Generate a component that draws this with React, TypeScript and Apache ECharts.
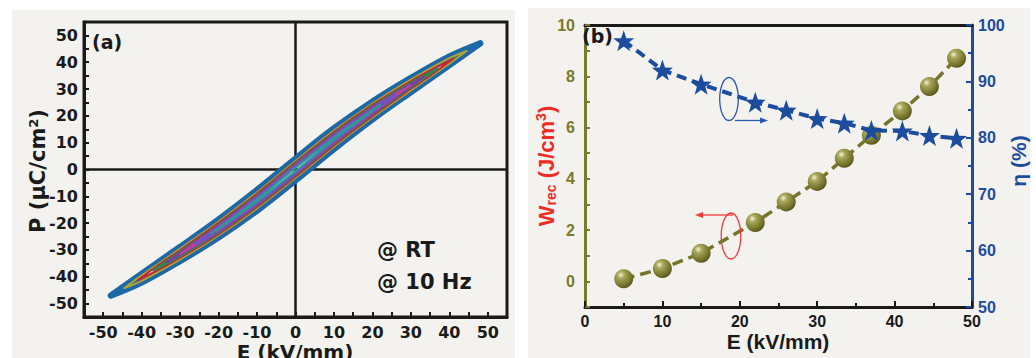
import React, { useEffect, useRef } from "react";
import * as echarts from "echarts";

// ---------- Panel (a): P-E loops (E in kV/mm, P in uC/cm2) ----------
const loop48: number[][] = [
  [48, 47], [40, 42.1], [30, 34.1], [20, 25.3], [10, 15.3], [0, 4.0], [-10, -7.7], [-20, -18.7], [-30, -28.9], [-40, -38.9], [-48, -47],
  [-40, -42.1], [-30, -34.1], [-20, -25.3], [-10, -15.3], [0, -4.0], [10, 7.7], [20, 18.7], [30, 28.9], [40, 38.9], [48, 47],
];
const loop44: number[][] = [
  [44.5, 44.2], [40, 41.5], [30, 33.5], [20, 24.6], [10, 14.5], [0, 3.2], [-10, -8.5], [-20, -19.4], [-30, -29.5], [-40, -39.5], [-44.5, -44.2],
  [-40, -41.5], [-30, -33.5], [-20, -24.6], [-10, -14.5], [0, -3.2], [10, 8.5], [20, 19.4], [30, 29.5], [40, 39.5], [44.5, 44.2],
];
const loop41: number[][] = [
  [41, 41.3], [36, 37.6], [30, 32.9], [20, 24.1], [10, 14.0], [0, 2.7], [-10, -9.0], [-20, -19.9], [-30, -30.1], [-36, -36.0], [-41, -41.3],
  [-36, -37.6], [-30, -32.9], [-20, -24.1], [-10, -14.0], [0, -2.7], [10, 9.0], [20, 19.9], [30, 30.1], [36, 36.0], [41, 41.3],
];
const loop37: number[][] = [
  [37, 37.6], [30, 32.4], [20, 23.6], [10, 13.5], [0, 2.2], [-10, -9.5], [-20, -20.4], [-30, -30.6], [-37, -37.6],
  [-30, -32.4], [-20, -23.6], [-10, -13.5], [0, -2.2], [10, 9.5], [20, 20.4], [30, 30.6], [37, 37.6],
];
const loop33: number[][] = [
  [33.5, 34.6], [28, 30.2], [20, 23.2], [10, 13.1], [0, 1.8], [-10, -9.9], [-20, -20.8], [-28, -29.0], [-33.5, -34.6],
  [-28, -30.2], [-20, -23.2], [-10, -13.1], [0, -1.8], [10, 9.9], [20, 20.8], [28, 29.0], [33.5, 34.6],
];
const loop30: number[][] = [
  [30, 31.5], [25, 27.3], [20, 22.8], [10, 12.7], [0, 1.4], [-10, -10.3], [-20, -21.2], [-25, -26.3], [-30, -31.5],
  [-25, -27.3], [-20, -22.8], [-10, -12.7], [0, -1.4], [10, 10.3], [20, 21.2], [25, 26.3], [30, 31.5],
];
const loop26: number[][] = [
  [26, 27.8], [20, 22.4], [10, 12.3], [0, 1.0], [-10, -10.7], [-20, -21.6], [-26, -27.8],
  [-20, -22.4], [-10, -12.3], [0, -1.0], [10, 10.7], [20, 21.6], [26, 27.8],
];
const loop22: number[][] = [
  [22, 24], [17, 19.1], [10, 11.9], [0, 0.6], [-10, -11.1], [-17, -18.7], [-22, -24],
  [-17, -19.1], [-10, -11.9], [0, -0.6], [10, 11.1], [17, 18.7], [22, 24],
];
const tickLabelsA = [-50, -40, -30, -20, -10, 0, 10, 20, 30, 40, 50];

// ---------- Panel (b): energy storage ----------
const fieldE = [5, 10, 15, 22, 26, 30, 33.5, 37, 41, 44.5, 48];
const wrec = [0.1, 0.5, 1.1, 2.3, 3.1, 3.9, 4.8, 5.7, 6.65, 7.6, 8.7];
const eta = [97.2, 92.0, 89.5, 86.3, 84.9, 83.4, 82.6, 81.3, 81.2, 80.4, 79.9];
const wTickLabels = [0, 2, 4, 6, 8, 10];

const DARK = "#1a1a1a";
const OLIVE = "#7b7a2c";
const BLUE = "#1c4c9e";
const RED = "#ee2b24";
const BG = "#f3f2ee";
const FA = "DejaVu Sans";
const FB = "Liberation Sans";

const STAR =
  "path://M0,-10 L2.35,-3.24 L9.51,-3.09 L3.8,1.24 L5.88,8.09 L0,4 L-5.88,8.09 L-3.8,1.24 L-9.51,-3.09 L-2.35,-3.24 Z";

export default function App() {
  const ref = useRef<HTMLDivElement>(null);
  useEffect(() => {
    if (!ref.current) return;
    const chart = echarts.init(ref.current, undefined, { renderer: "svg" });

    const loops = [
      { pts: loop48, color: "#1d68a6", width: 6.5 },
      { pts: loop44, color: "#b0a232", width: 2 },
      { pts: loop41, color: "#c2283c", width: 2 },
      { pts: loop37, color: "#2a8a4a", width: 2 },
      { pts: loop33, color: "#7f3aa8", width: 2 },
      { pts: loop30, color: "#c0409a", width: 2 },
      { pts: loop26, color: "#5a5ad0", width: 2 },
      { pts: loop22, color: "#2a9a9a", width: 2 },
    ];

    const pairs = (ys: number[]) => fieldE.map((e, i) => [e, ys[i]]);

    const labelA = { fontFamily: FA, fontWeight: "bold" as const, fontSize: 16, color: DARK };
    const labelB = { fontFamily: FB, fontWeight: "bold" as const, fontSize: 16 };

    const option: any = {
      animation: false,
      backgroundColor: "#ffffff",
      grid: [
        { left: 84, top: 22, width: 423, height: 295, show: true, borderColor: DARK, borderWidth: 3, backgroundColor: "transparent" },
        { left: 585, top: 25, width: 387, height: 282, show: false },
      ],
      xAxis: [
        {
          gridIndex: 0, type: "value", min: -55, max: 55, interval: 5,
          axisLine: { show: true, onZero: false, lineStyle: { color: DARK, width: 3 } },
          axisTick: { show: true, inside: true, length: 5, lineStyle: { color: DARK, width: 2 } },
          axisLabel: { ...labelA, margin: 7, formatter: (v: number) => (tickLabelsA.includes(v) ? String(v) : "") },
          splitLine: { show: false },
        },
        {
          gridIndex: 1, type: "value", min: 0, max: 50, interval: 10,
          axisLine: { show: true, onZero: false, lineStyle: { color: DARK, width: 3 } },
          axisTick: { show: true, inside: true, length: 6, lineStyle: { color: DARK, width: 2 } },
          minorTick: { show: true, splitNumber: 2, length: 4, lineStyle: { color: DARK, width: 2 } },
          axisLabel: { ...labelB, color: DARK, margin: 6 },
          splitLine: { show: false },
          minorSplitLine: { show: false },
        },
        {
          gridIndex: 1, type: "value", min: 0, max: 50, position: "top",
          axisLine: { show: true, onZero: false, lineStyle: { color: DARK, width: 3 } },
          axisTick: { show: false }, axisLabel: { show: false }, splitLine: { show: false },
        },
      ],
      yAxis: [
        {
          gridIndex: 0, type: "value", min: -55, max: 55, interval: 5,
          axisLine: { show: true, onZero: false, lineStyle: { color: DARK, width: 3 } },
          axisTick: { show: true, inside: true, length: 5, lineStyle: { color: DARK, width: 2 } },
          axisLabel: { ...labelA, margin: 6, formatter: (v: number) => (tickLabelsA.includes(v) ? String(v) : "") },
          splitLine: { show: false },
        },
        {
          gridIndex: 1, type: "value", min: -1, max: 10, interval: 1, position: "left",
          axisLine: { show: true, onZero: false, lineStyle: { color: OLIVE, width: 3 } },
          axisTick: { show: true, inside: true, length: 5, lineStyle: { color: OLIVE, width: 2 } },
          axisLabel: { ...labelB, color: OLIVE, margin: 10, formatter: (v: number) => (wTickLabels.includes(v) ? String(v) : "") },
          splitLine: { show: false },
        },
        {
          gridIndex: 1, type: "value", min: 50, max: 100, interval: 10, position: "right",
          axisLine: { show: true, onZero: false, lineStyle: { color: BLUE, width: 3 } },
          axisTick: { show: true, inside: true, length: 6, lineStyle: { color: BLUE, width: 2 } },
          minorTick: { show: true, splitNumber: 2, length: 4, lineStyle: { color: BLUE, width: 2 } },
          axisLabel: { ...labelB, color: BLUE, margin: 6 },
          splitLine: { show: false },
          minorSplitLine: { show: false },
        },
      ],
      series: [
        {
          type: "line", xAxisIndex: 0, yAxisIndex: 0, data: [], silent: true,
          markLine: {
            silent: true, symbol: ["none", "none"], z: 1, label: { show: false },
            lineStyle: { color: DARK, width: 2.5, type: "solid" },
            data: [{ xAxis: 0 }, { yAxis: 0 }],
          },
        },
        ...loops.map((l) => ({
          type: "line", xAxisIndex: 0, yAxisIndex: 0, data: l.pts, smooth: 0.35,
          symbol: "none", silent: true, z: 3,
          lineStyle: { color: l.color, width: l.width, cap: "round", join: "round" },
        })),
        {
          type: "line", xAxisIndex: 1, yAxisIndex: 1, data: pairs(wrec), z: 4,
          symbol: "circle", symbolSize: 19,
          lineStyle: { color: "#75742a", width: 3.5, type: [11, 6] },
          itemStyle: {
            color: new echarts.graphic.RadialGradient(0.35, 0.3, 0.75, [
              { offset: 0, color: "#f2f2d8" },
              { offset: 0.25, color: "#a9a75a" },
              { offset: 0.7, color: "#7a7830" },
              { offset: 1, color: "#55541c" },
            ]),
          },
        },
        {
          type: "line", xAxisIndex: 1, yAxisIndex: 2, data: pairs(eta), z: 5,
          symbol: STAR, symbolSize: 21,
          lineStyle: { color: BLUE, width: 4, type: [10, 6] },
          itemStyle: { color: BLUE },
        },
      ],
      graphic: [
        { type: "rect", z: -10, silent: true, shape: { x: 12, y: 10, width: 503, height: 348 }, style: { fill: BG } },
        { type: "rect", z: -10, silent: true, shape: { x: 528, y: 8, width: 502, height: 350 }, style: { fill: BG } },
        { type: "text", z: 50, x: 92, y: 42, style: { text: "(a)", fill: DARK, fontFamily: FA, fontWeight: "bold", fontSize: 19, align: "left", verticalAlign: "middle" } },
        { type: "text", z: 50, x: 377, y: 250, style: { text: "@ RT", fill: DARK, fontFamily: FA, fontWeight: "bold", fontSize: 21, align: "left", verticalAlign: "middle" } },
        { type: "text", z: 50, x: 377, y: 282, style: { text: "@ 10 Hz", fill: DARK, fontFamily: FA, fontWeight: "bold", fontSize: 21, align: "left", verticalAlign: "middle" } },
        { type: "text", z: 50, x: 295, y: 352, style: { text: "E (kV/mm)", fill: DARK, fontFamily: FA, fontWeight: "bold", fontSize: 20, align: "center", verticalAlign: "middle" } },
        {
          type: "text", z: 50, x: 38, y: 171, rotation: Math.PI / 2,
          style: {
            text: "{m|P (μC/cm}{p|2}{m|)}", fill: DARK, align: "center", verticalAlign: "middle",
            rich: {
              m: { fontFamily: FA, fontWeight: "bold", fontSize: 21, fill: DARK },
              p: { fontFamily: FA, fontWeight: "bold", fontSize: 13, fill: DARK, padding: [0, 0, 10, 0] },
            },
          },
        },
        { type: "text", z: 50, x: 582, y: 36, style: { text: "(b)", fill: DARK, fontFamily: FA, fontWeight: "bold", fontSize: 19, align: "left", verticalAlign: "middle" } },
        { type: "text", z: 50, x: 778, y: 341, style: { text: "E (kV/mm)", fill: DARK, fontFamily: FB, fontWeight: "bold", fontSize: 21, align: "center", verticalAlign: "middle" } },
        {
          type: "text", z: 50, x: 546, y: 166, rotation: Math.PI / 2,
          style: {
            text: "{m|W}{s|rec}{m| (J/cm}{p|3}{m|)}", fill: RED, align: "center", verticalAlign: "middle",
            rich: {
              m: { fontFamily: FB, fontWeight: "bold", fontSize: 22, fill: RED },
              s: { fontFamily: FB, fontWeight: "bold", fontSize: 14, fill: RED, padding: [10, 0, 0, 0] },
              p: { fontFamily: FB, fontWeight: "bold", fontSize: 14, fill: RED, padding: [0, 0, 10, 0] },
            },
          },
        },
        { type: "text", z: 50, x: 1018, y: 161, rotation: Math.PI / 2, style: { text: "η (%)", fill: BLUE, fontFamily: FB, fontWeight: "bold", fontSize: 21, align: "center", verticalAlign: "middle" } },
        // annotation: ellipse + arrow to right axis
        { type: "ellipse", z: 60, silent: true, shape: { cx: 729, cy: 99, rx: 9.3, ry: 21.5 }, style: { fill: "none", stroke: "#2a56b4", lineWidth: 1.3 } },
        { type: "line", z: 60, silent: true, shape: { x1: 735, y1: 120.5, x2: 762, y2: 120.5 }, style: { stroke: "#2a56b4", lineWidth: 1.3 } },
        { type: "polygon", z: 60, silent: true, shape: { points: [[768, 120.5], [760, 117.5], [760, 123.5]] }, style: { fill: "#2a56b4" } },
        // annotation: ellipse + arrow to left axis
        { type: "ellipse", z: 60, silent: true, shape: { cx: 731, cy: 236, rx: 9.8, ry: 23 }, style: { fill: "none", stroke: "#f03a3a", lineWidth: 1.3 } },
        { type: "line", z: 60, silent: true, shape: { x1: 733, y1: 215, x2: 701, y2: 215 }, style: { stroke: "#f03a3a", lineWidth: 1.3 } },
        { type: "polygon", z: 60, silent: true, shape: { points: [[695, 215], [703, 212], [703, 218]] }, style: { fill: "#f03a3a" } },
      ],
    };

    chart.setOption(option);
    return () => chart.dispose();
  }, []);

  return (
    <div
      ref={ref}
      style={{ position: "fixed", left: 0, top: 0, width: 1036, height: 358, background: "#ffffff" }}
    />
  );
}
